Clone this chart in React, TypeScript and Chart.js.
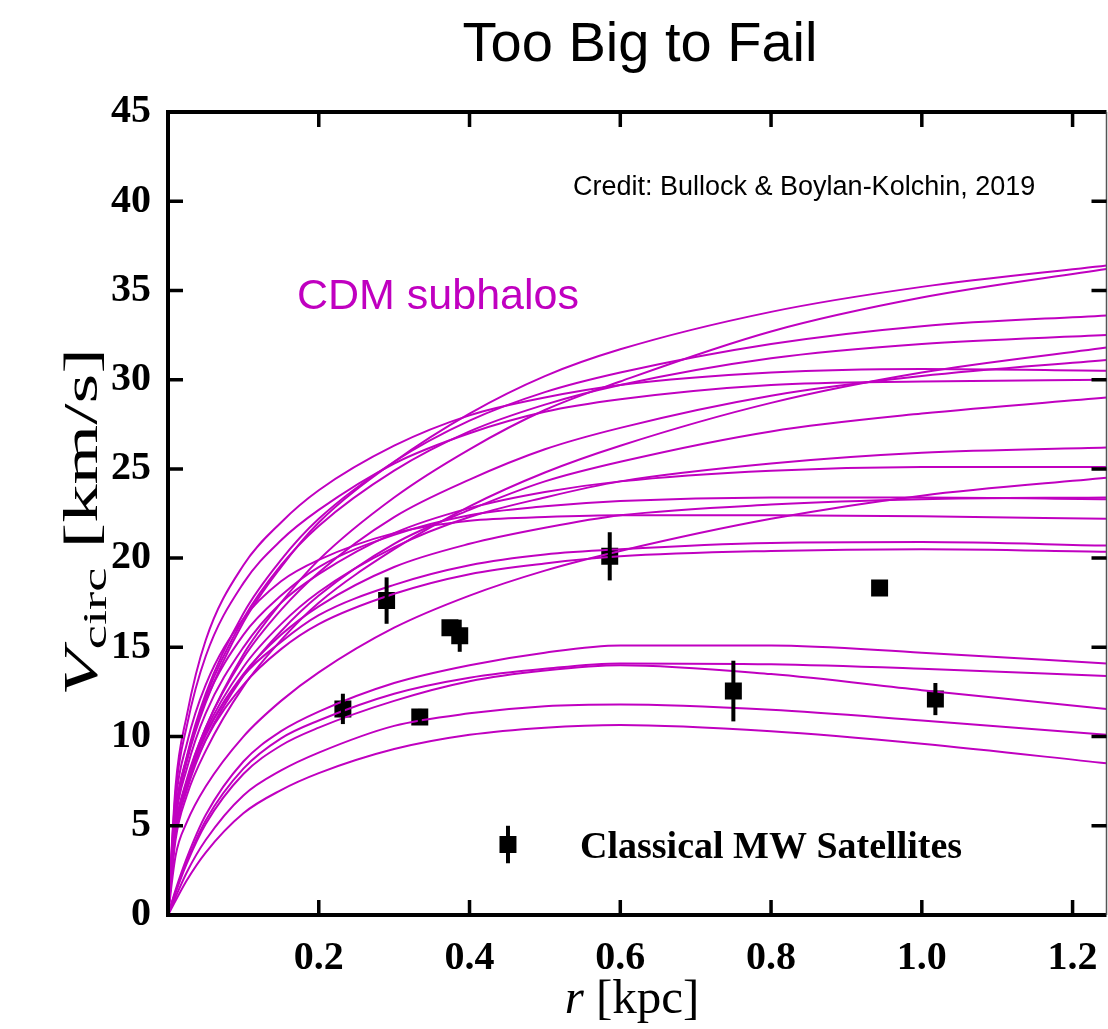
import React, { useEffect, useRef } from 'react';
import { Chart, registerables } from 'chart.js';

Chart.register(...registerables);

// ---- data ----
const radii = [0, 0.01, 0.025, 0.05, 0.1, 0.15, 0.2, 0.3, 0.4, 0.5, 0.6, 0.8, 1.0, 1.245];

const halo01 = [0, 5.4, 8.6, 11.9, 16.4, 19.5, 22.0, 25.4, 28.1, 30.2, 31.7, 33.8, 35.2, 36.4];
const halo02 = [0, 5.7, 8.9, 12.4, 16.9, 19.9, 22.2, 25.4, 27.7, 29.3, 30.4, 32.0, 33.0, 33.6];
const halo03 = [0, 4.8, 7.6, 10.5, 14.6, 17.5, 19.9, 23.4, 26.1, 28.3, 29.9, 32.7, 34.6, 36.2];
const halo04 = [0, 5.6, 8.8, 12.2, 16.6, 19.6, 21.8, 24.9, 27.1, 28.6, 29.7, 31.2, 32.0, 32.5];
const halo05 = [0, 7.2, 11.2, 15.4, 19.6, 22.0, 23.8, 26.3, 28.0, 29.0, 29.7, 30.4, 30.6, 30.5];
const halo06 = [0, 6.8, 10.6, 14.5, 18.6, 21.0, 22.7, 25.3, 27.0, 28.2, 28.9, 29.7, 29.9, 30.0];
const halo07 = [0, 4.8, 7.5, 10.5, 14.4, 17.1, 19.2, 22.3, 24.4, 26.1, 27.3, 29.1, 30.2, 31.1];
const halo08 = [0, 4.2, 6.7, 9.2, 12.8, 15.4, 17.5, 20.5, 22.9, 24.8, 26.3, 28.7, 30.4, 31.8];
const halo09 = [0, 4.5, 7.0, 9.8, 13.4, 15.9, 17.9, 20.8, 22.7, 24.3, 25.4, 27.1, 28.1, 29.0];
const halo10 = [0, 4.8, 7.4, 10.3, 13.9, 16.3, 18.1, 20.6, 22.3, 23.4, 24.3, 25.3, 25.9, 26.2];
const halo11 = [0, 5.3, 8.2, 11.3, 15.0, 17.5, 19.1, 21.4, 22.8, 23.7, 24.3, 24.9, 25.1, 25.1];
const halo12 = [0, 5.7, 8.8, 12.0, 15.7, 17.9, 19.5, 21.3, 22.4, 22.9, 23.2, 23.4, 23.4, 23.3];
const halo13 = [0, 4.7, 7.3, 10.1, 13.5, 15.7, 17.3, 19.5, 20.8, 21.7, 22.4, 23.0, 23.3, 23.4];
const halo14 = [0, 6.3, 9.6, 12.9, 16.6, 18.7, 19.9, 21.4, 22.1, 22.3, 22.4, 22.4, 22.35, 22.2];
const halo15 = [0, 3.3, 5.2, 7.2, 10.0, 12.0, 13.6, 16.1, 17.9, 19.3, 20.4, 22.2, 23.5, 24.5];
const halo16 = [0, 4.8, 7.4, 10.1, 13.4, 15.3, 16.8, 18.5, 19.6, 20.2, 20.5, 20.85, 20.9, 20.7];
const halo17 = [0, 4.6, 7.2, 9.8, 12.9, 14.9, 16.3, 18.0, 19.1, 19.7, 20.1, 20.4, 20.5, 20.36];
const halo18 = [0, 1.4, 3.2, 5.6, 8.6, 10.3, 11.4, 13.0, 14.0, 14.7, 15.1, 15.1, 14.7, 14.1];
const halo19 = [0, 1.3, 3.0, 5.3, 8.2, 9.9, 10.9, 12.4, 13.3, 13.8, 14.1, 14.05, 13.8, 13.4];
const halo20 = [0, 1.25, 2.9, 5.1, 7.9, 9.5, 10.5, 12.0, 13.1, 13.7, 14.0, 13.5, 12.6, 11.55];
const halo21 = [0, 1.0, 2.4, 4.2, 6.7, 8.1, 9.1, 10.6, 11.3, 11.7, 11.8, 11.5, 10.9, 10.1];
const halo22 = [0, 0.8, 1.95, 3.5, 5.7, 7.0, 7.95, 9.3, 10.1, 10.5, 10.65, 10.3, 9.6, 8.5];

const haloCurves = [
  halo01, halo02, halo03, halo04, halo05, halo06, halo07, halo08, halo09, halo10, halo11,
  halo12, halo13, halo14, halo15, halo16, halo17, halo18, halo19, halo20, halo21, halo22,
];

const satR = [0.232, 0.29, 0.334, 0.374, 0.387, 0.586, 0.75, 0.944, 1.018];
const satV = [11.55, 17.62, 11.1, 16.1, 15.65, 20.1, 12.55, 18.33, 12.1];
const satErr = [0.85, 1.3, 0.45, 0.4, 0.9, 1.35, 1.7, 0.25, 0.9];

const legendR = [0.451];
const legendV = [3.95];
const legendErr = [1.05];

const xTicks = [0, 0.2, 0.4, 0.6, 0.8, 1.0, 1.2];
const yTicks = [0, 5, 10, 15, 20, 25, 30, 35, 40, 45];

const titleText = 'Too Big to Fail';
const creditText = 'Credit: Bullock & Boylan-Kolchin, 2019';
const cdmText = 'CDM subhalos';
const legendText = 'Classical MW Satellites';

const MAGENTA = '#c000c0';
const SERIF = '"Liberation Serif", "DejaVu Serif", serif';
const SANS = '"Liberation Sans", Arial, sans-serif';

const errs: number[][] = [satErr, legendErr];

const decorPlugin = {
  id: 'decor',
  afterDatasetsDraw(chart: any) {
    const ctx = chart.ctx as CanvasRenderingContext2D;
    const xs = chart.scales.x;
    const ys = chart.scales.y;
    const n = chart.data.datasets.length;
    ctx.save();
    ctx.strokeStyle = '#000';
    ctx.lineWidth = 4;
    ctx.lineCap = 'butt';
    [0, 1].forEach((k) => {
      const ds = chart.data.datasets[n - 2 + k];
      const e = errs[k];
      ds.data.forEach((p: any, i: number) => {
        const px = xs.getPixelForValue(p.x);
        ctx.beginPath();
        ctx.moveTo(px, ys.getPixelForValue(p.y - e[i]));
        ctx.lineTo(px, ys.getPixelForValue(p.y + e[i]));
        ctx.stroke();
      });
    });
    ctx.restore();
  },
  afterDraw(chart: any) {
    const ctx = chart.ctx as CanvasRenderingContext2D;
    const { left, right, top, bottom } = chart.chartArea;
    const xs = chart.scales.x;
    const ys = chart.scales.y;
    ctx.save();
    // frame
    ctx.strokeStyle = '#000';
    ctx.lineWidth = 4;
    ctx.beginPath();
    ctx.moveTo(right, top);
    ctx.lineTo(left, top);
    ctx.lineTo(left, bottom);
    ctx.lineTo(right, bottom);
    ctx.stroke();
    ctx.lineWidth = 1.5;
    ctx.strokeStyle = '#555';
    ctx.beginPath();
    ctx.moveTo(right, top);
    ctx.lineTo(right, bottom);
    ctx.stroke();
    // inward ticks
    ctx.strokeStyle = '#000';
    ctx.lineWidth = 3.5;
    const tl = 15;
    xTicks.forEach((v) => {
      if (v <= 0) return;
      const px = xs.getPixelForValue(v);
      ctx.beginPath();
      ctx.moveTo(px, bottom);
      ctx.lineTo(px, bottom - tl);
      ctx.moveTo(px, top);
      ctx.lineTo(px, top + tl);
      ctx.stroke();
    });
    yTicks.forEach((v) => {
      if (v <= 0 || v >= 45) return;
      const py = ys.getPixelForValue(v);
      ctx.beginPath();
      ctx.moveTo(left, py);
      ctx.lineTo(left + tl, py);
      ctx.moveTo(right, py);
      ctx.lineTo(right - tl, py);
      ctx.stroke();
    });

    ctx.fillStyle = '#000';
    ctx.textBaseline = 'alphabetic';
    // title
    ctx.font = `56px ${SANS}`;
    ctx.textAlign = 'center';
    ctx.fillText(titleText, 640, 61);
    // credit
    ctx.font = `27px ${SANS}`;
    ctx.textAlign = 'left';
    ctx.fillText(creditText, 573, 195);
    // CDM label
    ctx.fillStyle = MAGENTA;
    ctx.font = `43px ${SANS}`;
    ctx.fillText(cdmText, 297, 309);
    // legend text
    ctx.fillStyle = '#000';
    ctx.font = `bold 38px ${SERIF}`;
    ctx.fillText(legendText, 580, 858);

    // x title
    ctx.font = `italic 49px ${SERIF}`;
    const rW = ctx.measureText('r').width;
    ctx.font = `49px ${SERIF}`;
    const kW = ctx.measureText(' [kpc]').width;
    const xStart = 632 - (rW + kW) / 2;
    ctx.font = `italic 49px ${SERIF}`;
    ctx.fillText('r', xStart, 1013);
    ctx.font = `49px ${SERIF}`;
    ctx.fillText(' [kpc]', xStart + rW, 1013);

    // y title (rotated, stretched along its reading direction)
    ctx.save();
    ctx.translate(97, 522);
    ctx.rotate(-Math.PI / 2);
    ctx.scale(1.6, 1);
    const parts = [
      { t: 'V', f: `italic 48px ${SERIF}`, dy: 0 },
      { t: 'circ', f: `34px ${SERIF}`, dy: 9 },
      { t: ' [km/s]', f: `48px ${SERIF}`, dy: 0 },
    ];
    let total = 0;
    const widths = parts.map((p) => {
      ctx.font = p.f;
      const w = ctx.measureText(p.t).width;
      total += w;
      return w;
    });
    let cx = -total / 2;
    parts.forEach((p, i) => {
      ctx.font = p.f;
      ctx.fillText(p.t, cx, p.dy);
      cx += widths[i];
    });
    ctx.restore();
    ctx.restore();
  },
};

export default function App() {
  const ref = useRef<HTMLCanvasElement | null>(null);

  useEffect(() => {
    document.body.style.margin = '0';
    const canvas = ref.current;
    if (!canvas) return;

    const curveSets = haloCurves.map((vals) => ({
      type: 'line' as const,
      data: radii.map((r, i) => ({ x: r, y: vals[i] })),
      borderColor: MAGENTA,
      borderWidth: 2,
      pointRadius: 0,
      fill: false,
      showLine: true,
      cubicInterpolationMode: 'monotone' as const,
    }));

    const chart = new Chart(canvas, {
      type: 'scatter',
      data: {
        datasets: [
          ...curveSets,
          {
            type: 'scatter' as const,
            data: satR.map((r, i) => ({ x: r, y: satV[i] })),
            pointStyle: 'rect',
            pointRadius: 12,
            backgroundColor: '#000',
            borderColor: '#000',
            borderWidth: 0,
          },
          {
            type: 'scatter' as const,
            data: legendR.map((r, i) => ({ x: r, y: legendV[i] })),
            pointStyle: 'rect',
            pointRadius: 12,
            backgroundColor: '#000',
            borderColor: '#000',
            borderWidth: 0,
          },
        ] as any,
      },
      options: {
        animation: false,
        responsive: false,
        maintainAspectRatio: false,
        layout: { autoPadding: false, padding: { top: 112, right: 1.5, left: 0, bottom: 0 } },
        plugins: {
          legend: { display: false },
          tooltip: { enabled: false },
          title: { display: false },
        },
        scales: {
          x: {
            type: 'linear',
            min: 0,
            max: 1.245,
            afterFit: (s: any) => {
              s.height = 114;
              s.paddingLeft = 0;
              s.paddingRight = 0;
            },
            afterBuildTicks: (s: any) => {
              s.ticks = xTicks.map((v) => ({ value: v }));
            },
            ticks: {
              autoSkip: false,
              maxRotation: 0,
              padding: 20,
              color: '#000',
              font: { family: SERIF, weight: 'bold', size: 40 },
              callback: (v: any) => (Number(v) === 0 ? '' : Number(v).toFixed(1)),
            },
            grid: { display: false, drawTicks: false },
            border: { display: false },
          },
          y: {
            type: 'linear',
            min: 0,
            max: 45,
            afterFit: (s: any) => {
              s.width = 168;
              s.paddingTop = 0;
              s.paddingBottom = 0;
            },
            afterBuildTicks: (s: any) => {
              s.ticks = yTicks.map((v) => ({ value: v }));
            },
            ticks: {
              autoSkip: false,
              padding: 17,
              color: '#000',
              font: { family: SERIF, weight: 'bold', size: 40 },
              callback: (v: any) => String(v),
            },
            grid: { display: false, drawTicks: false },
            border: { display: false },
          },
        },
      } as any,
      plugins: [decorPlugin],
    });

    return () => {
      chart.destroy();
    };
  }, []);

  return (
    <div style={{ width: 1108, height: 1029, background: '#fff' }}>
      <canvas ref={ref} width={1108} height={1029} style={{ display: 'block' }} />
    </div>
  );
}
